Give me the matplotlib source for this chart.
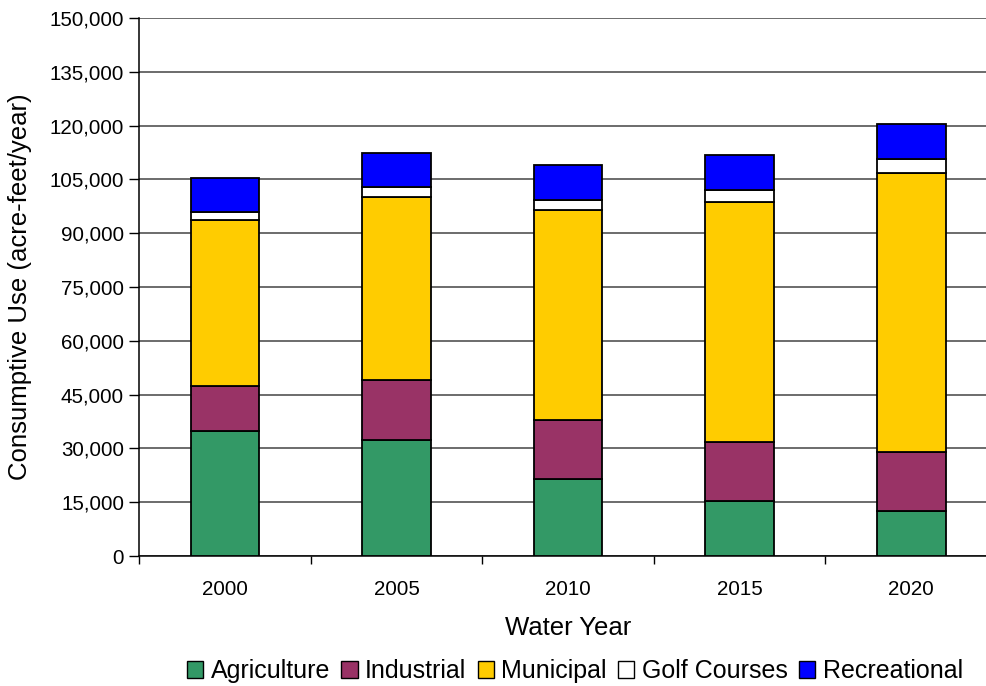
"""Stacked consumptive use by water year."""

import matplotlib.pyplot as plt
from matplotlib.patches import Patch
from matplotlib.ticker import FuncFormatter, MultipleLocator
import numpy as np

plt.rcParams["font.family"] = ["Liberation Sans", "DejaVu Sans"]

years = ["2000", "2005", "2010", "2015", "2020"]
agriculture = [34850, 32400, 21450, 15300, 12550]
industrial = [12600, 16550, 16550, 16450, 16450]
municipal = [46150, 51200, 58400, 66900, 77850]
golf_courses = [2230, 2790, 2870, 3340, 3900]
recreational = [9650, 9400, 9680, 9680, 9600]

series = [
    ("Agriculture", agriculture, "#339966"),
    ("Industrial", industrial, "#993366"),
    ("Municipal", municipal, "#FFCC00"),
    ("Golf Courses", golf_courses, "#FFFFFF"),
    ("Recreational", recreational, "#0000FF"),
]

figure = plt.figure(figsize=(9.87, 6.86), dpi=100)
W, H = 987, 686
left, right, top, bottom = 139.3, 997, 18, 556
axis = figure.add_axes(
    [left / W, 1 - bottom / H, (right - left) / W, (bottom - top) / H]
)

x = np.arange(len(years))
base = np.zeros(len(years))
for name, values, color in series:
    axis.bar(x, values, width=0.4, bottom=base, color=color,
             edgecolor="black", linewidth=1.3, label=name, zorder=3)
    base += np.array(values)

axis.set_xlim(-0.5, len(years) - 0.5)
axis.set_ylim(0, 150000)
axis.yaxis.set_major_locator(MultipleLocator(15000))
axis.yaxis.set_major_formatter(FuncFormatter(lambda v, _: f"{v:,.0f}"))
axis.grid(axis="y", color="#444444", linewidth=1.1, zorder=0)

axis.set_xticks(np.arange(len(years) + 1) - 0.5, minor=False)
axis.set_xticklabels([])
axis.set_xticks(x, minor=True)
axis.set_xticklabels(years, minor=True)
axis.tick_params(axis="x", which="major", direction="out", length=6,
                 color="black", width=1)
axis.tick_params(axis="x", which="minor", length=0, pad=17, labelsize=14.8)
axis.tick_params(axis="y", direction="out", length=7, width=1,
                 labelsize=14.8, pad=4)

for side in ("top", "right"):
    axis.spines[side].set_visible(False)
axis.spines["left"].set_linewidth(1.1)
axis.spines["bottom"].set_linewidth(1.1)

axis.set_xlabel("Water Year", fontsize=18.5)
axis.set_ylabel("Consumptive Use (acre-feet/year)", fontsize=18.5)
axis.xaxis.set_label_coords(0.5, -(628 - bottom) / (bottom - top), transform=axis.transAxes)
axis.yaxis.set_label_coords(-(left - 20) / (right - left), 0.5, transform=axis.transAxes)
axis.xaxis.label.set_va("center")
axis.yaxis.label.set_va("center")

handles = [Patch(facecolor=color, edgecolor="black", linewidth=1, label=name)
           for name, _, color in series]
figure.legend(handles=handles, loc="center", bbox_to_anchor=(575 / W, 1 - 671 / H),
              ncol=5, frameon=False, fontsize=18, handlelength=0.65,
              handleheight=0.65, handletextpad=0.3, columnspacing=0.45)

figure.savefig("out.png", dpi=100)
